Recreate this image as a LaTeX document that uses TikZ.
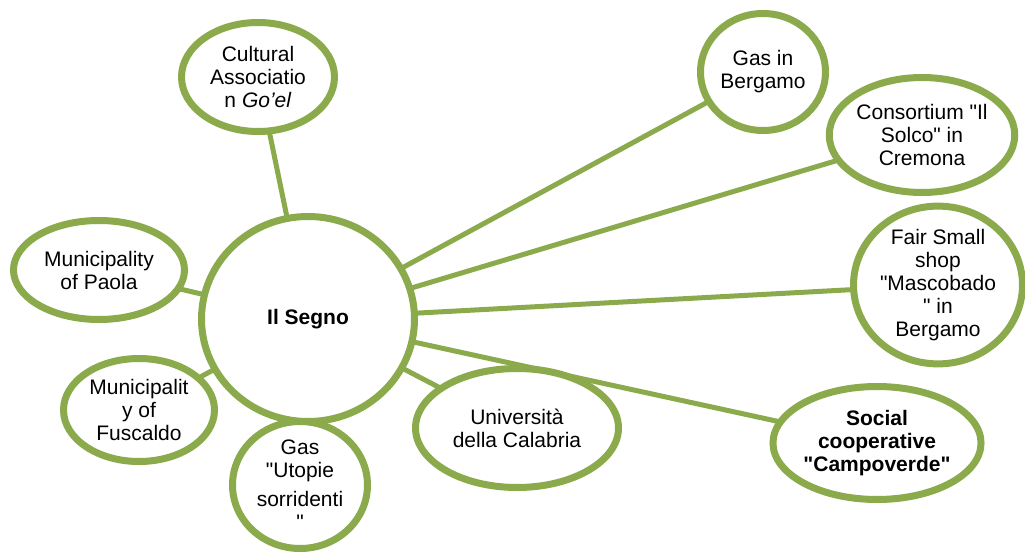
\documentclass[tikz,border=0pt]{standalone}
\usepackage{fontspec}
\setmainfont{Liberation Sans}[Ligatures=TeXOff]
\usetikzlibrary{shapes.geometric,backgrounds,shadows}
\definecolor{gr}{RGB}{139,170,76}
\tikzset{
  bub/.style={ellipse, draw=gr, line width=7pt, fill=white, inner sep=0pt, align=center,
    font=\fontsize{21}{23}\selectfont,
    drop shadow={opacity=0.18, shadow xshift=1.5pt, shadow yshift=-3pt}},
  link/.style={draw=gr, line width=5pt}
}
\begin{document}
\begin{tikzpicture}[x=1pt,y=-1pt]
\useasboundingbox (0,0) rectangle (1025,556);
\node[bub, minimum width=213, minimum height=205, font=\bfseries\fontsize{21}{23}\selectfont] (c) at (308,319) {Il Segno};
\node[bub, minimum width=153, minimum height=109] (cult) at (258,77) {Cultural\\Associatio\\n \textit{Go’el}};
\node[bub, minimum width=171, minimum height=99] (paola) at (99,270) {Municipality\\of Paola};
\node[bub, minimum width=151, minimum height=103] (fusc) at (139,410) {Municipalit\\y of\\Fuscaldo};
\node[bub, minimum width=135, minimum height=127] (utop) at (300,485) {Gas\\"Utopie\\[6pt]sorridenti\\"};
\node[bub, minimum width=203, minimum height=119] (univ) at (517,428) {Università\\della Calabria};
\node[bub, minimum width=125, minimum height=117] (gasb) at (763,72) {Gas in\\Bergamo};
\node[bub, minimum width=183, minimum height=115] (cons) at (922,135) {Consortium "Il\\Solco" in\\Cremona};
\node[bub, minimum width=169, minimum height=139] (fair) at (938,285) {Fair Small\\shop\\"Mascobado\\" in\\Bergamo};
\node[bub, minimum width=201, minimum height=113, font=\bfseries\fontsize{21}{23}\selectfont] (soc) at (877,443) {Social\\cooperative\\"Campoverde"};
\begin{scope}[on background layer]
\foreach \n in {cult,paola,fusc,utop,univ,gasb,cons,fair,soc}
  \draw[link] (c.center) -- (\n.center);
\end{scope}
\end{tikzpicture}
\end{document}
